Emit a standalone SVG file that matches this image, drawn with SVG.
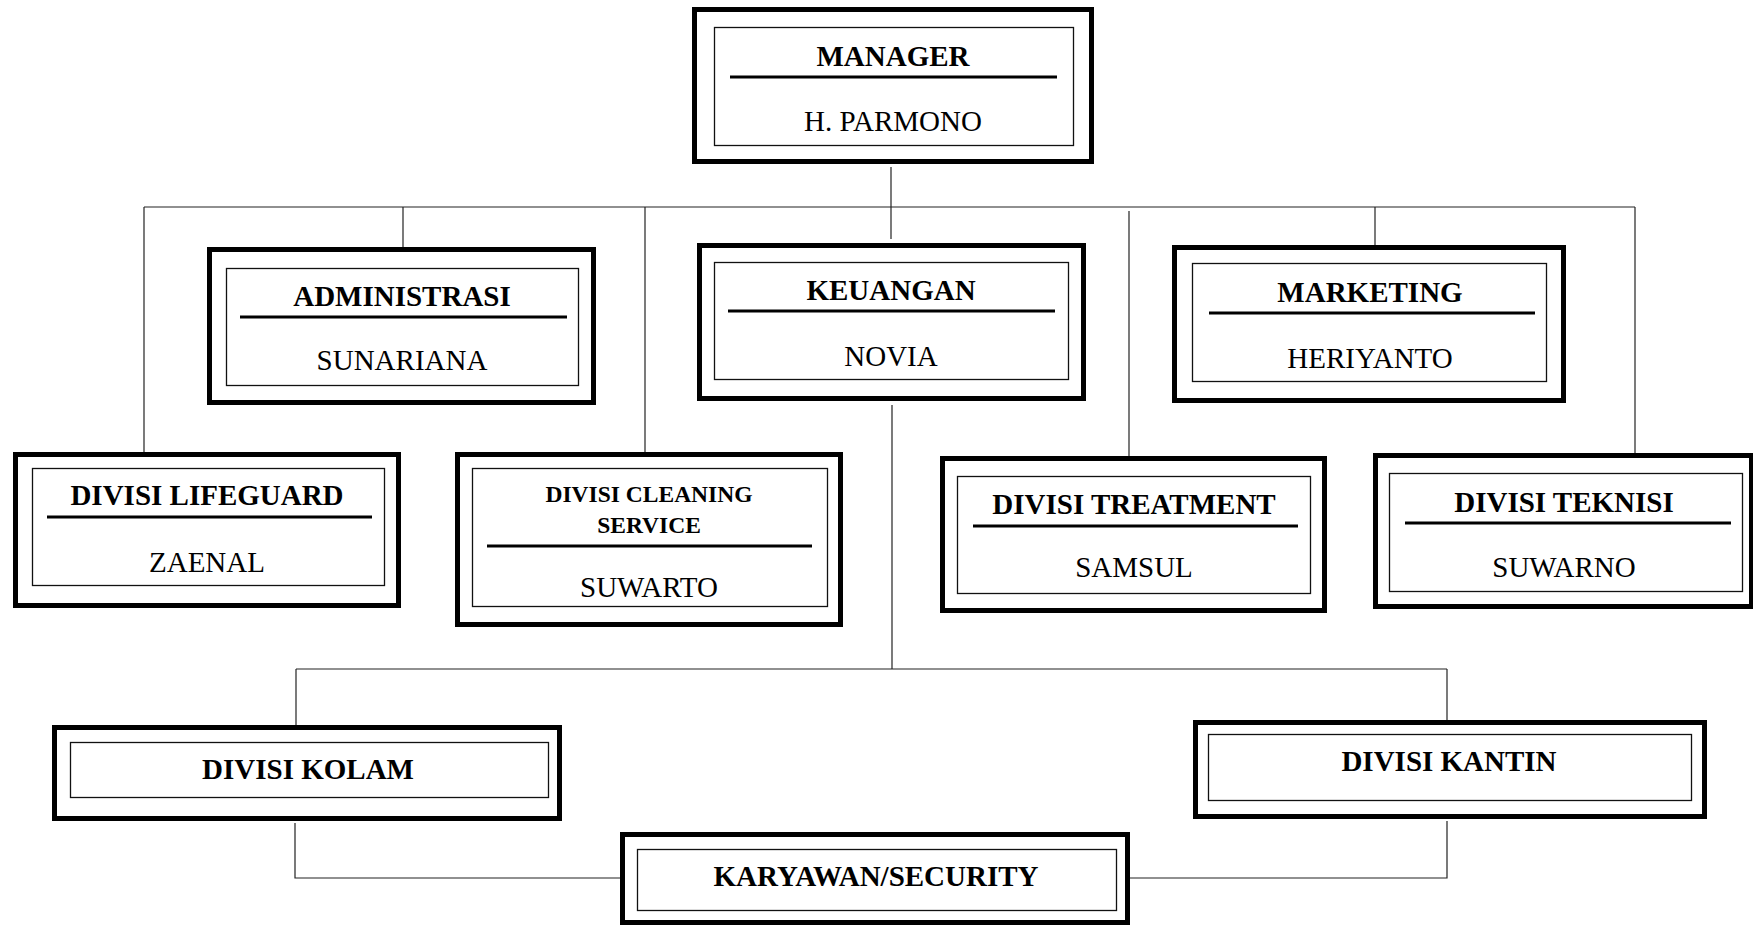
<svg xmlns="http://www.w3.org/2000/svg" width="1753" height="926" viewBox="0 0 1753 926">
<style>
.o{fill:none;stroke:#000;stroke-width:5}
.i{fill:none;stroke:#111;stroke-width:1.3}
.u{stroke:#000;stroke-width:3}
.c{stroke:#222;stroke-width:1.2;fill:none}
text{font-family:"Liberation Serif","Times New Roman",serif;font-size:29px;text-anchor:middle;fill:#000}
.b{font-weight:bold}
.s{font-size:23.5px}
</style>
<rect width="1753" height="926" fill="#fff"/>
<g id="connectors">
<line class="c" x1="891" y1="167" x2="891" y2="239"/>
<line class="c" x1="144" y1="207" x2="1635" y2="207"/>
<line class="c" x1="144" y1="207" x2="144" y2="452"/>
<line class="c" x1="403" y1="207" x2="403" y2="247"/>
<line class="c" x1="645" y1="207" x2="645" y2="452"/>
<line class="c" x1="1129" y1="211" x2="1129" y2="456"/>
<line class="c" x1="1375" y1="207" x2="1375" y2="245"/>
<line class="c" x1="1635" y1="207" x2="1635" y2="453"/>
<line class="c" x1="892" y1="405" x2="892" y2="669"/>
<line class="c" x1="296" y1="669" x2="1447" y2="669"/>
<line class="c" x1="296" y1="669" x2="296" y2="725"/>
<line class="c" x1="1447" y1="669" x2="1447" y2="720"/>
<polyline class="c" points="295,823 295,878 620,878"/>
<polyline class="c" points="1447,821 1447,878 1130,878"/>
</g>
<g id="manager">
<rect class="o" x="694.5" y="9.5" width="397" height="152"/>
<rect class="i" x="714.5" y="27.5" width="359" height="118"/>
<line class="u" x1="730" y1="77" x2="1057" y2="77"/>
<text class="b" x="893" y="66">MANAGER</text>
<text x="893" y="131">H. PARMONO</text>
</g>
<g id="administrasi">
<rect class="o" x="209.5" y="249.5" width="384" height="153"/>
<rect class="i" x="226.5" y="268.5" width="352" height="117"/>
<line class="u" x1="240" y1="317" x2="567" y2="317"/>
<text class="b" x="402" y="306">ADMINISTRASI</text>
<text x="402" y="370">SUNARIANA</text>
</g>
<g id="keuangan">
<rect class="o" x="699.5" y="245.5" width="384" height="153"/>
<rect class="i" x="714.5" y="262.5" width="354" height="117"/>
<line class="u" x1="728" y1="311" x2="1055" y2="311"/>
<text class="b" x="891" y="300">KEUANGAN</text>
<text x="891" y="366">NOVIA</text>
</g>
<g id="marketing">
<rect class="o" x="1174.5" y="247.5" width="389" height="153"/>
<rect class="i" x="1192.5" y="263.5" width="354" height="118"/>
<line class="u" x1="1209" y1="313" x2="1535" y2="313"/>
<text class="b" x="1370" y="302">MARKETING</text>
<text x="1370" y="368">HERIYANTO</text>
</g>
<g id="lifeguard">
<rect class="o" x="15.5" y="454.5" width="383" height="151"/>
<rect class="i" x="32.5" y="468.5" width="352" height="117"/>
<line class="u" x1="47" y1="517" x2="372" y2="517"/>
<text class="b" x="207" y="505">DIVISI LIFEGUARD</text>
<text x="207" y="572">ZAENAL</text>
</g>
<g id="cleaning">
<rect class="o" x="457.5" y="454.5" width="383" height="170"/>
<rect class="i" x="472.5" y="468.5" width="355" height="138"/>
<line class="u" x1="487" y1="546" x2="812" y2="546"/>
<text class="b s" x="649" y="502">DIVISI CLEANING</text>
<text class="b s" x="649" y="533">SERVICE</text>
<text x="649" y="597">SUWARTO</text>
</g>
<g id="treatment">
<rect class="o" x="942.5" y="458.5" width="382" height="152"/>
<rect class="i" x="957.5" y="476.5" width="353" height="117"/>
<line class="u" x1="973" y1="526" x2="1298" y2="526"/>
<text class="b" x="1134" y="514">DIVISI TREATMENT</text>
<text x="1134" y="577">SAMSUL</text>
</g>
<g id="teknisi">
<rect class="o" x="1375.5" y="455.5" width="376" height="151"/>
<rect class="i" x="1389.5" y="473.5" width="353" height="118"/>
<line class="u" x1="1405" y1="523" x2="1731" y2="523"/>
<text class="b" x="1564" y="512">DIVISI TEKNISI</text>
<text x="1564" y="577">SUWARNO</text>
</g>
<g id="kolam">
<rect class="o" x="54.5" y="727.5" width="505" height="91"/>
<rect class="i" x="70.5" y="742.5" width="478" height="55"/>
<text class="b" x="308" y="779">DIVISI KOLAM</text>
</g>
<g id="kantin">
<rect class="o" x="1195.5" y="722.5" width="509" height="94"/>
<rect class="i" x="1208.5" y="734.5" width="483" height="66"/>
<text class="b" x="1449" y="771">DIVISI KANTIN</text>
</g>
<g id="karyawan">
<rect class="o" x="622.5" y="834.5" width="505" height="88"/>
<rect class="i" x="637.5" y="849.5" width="479" height="61"/>
<text class="b" x="876" y="886">KARYAWAN/SECURITY</text>
</g>
</svg>
